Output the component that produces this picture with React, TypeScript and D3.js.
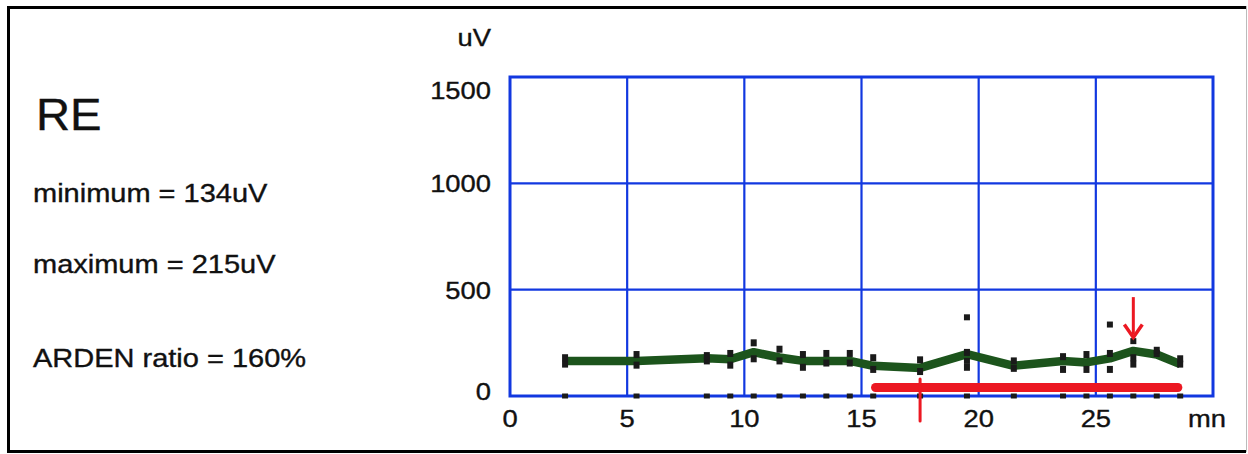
import React from "react";
import * as d3 from "d3";

const title = "RE";
const statLines = ["minimum = 134uV", "maximum = 215uV", "ARDEN ratio = 160%"];
const yTicks = [0, 500, 1000, 1500];
const xTicks = [0, 5, 10, 15, 20, 25];
const yUnit = "uV";
const xUnit = "mn";

const times = [2.35, 5.4, 8.4, 9.4, 10.4, 11.5, 12.5, 13.5, 14.5, 15.5, 17.5, 19.5, 21.5, 23.6, 24.6, 25.6, 26.6, 27.6, 28.6];
const meanUV = [165, 165, 177, 173, 206, 181, 165, 165, 165, 142, 132, 197, 142, 165, 158, 177, 212, 195, 150];
const sampleLo = [150, 145, 165, 145, 175, 165, 135, 155, 155, 125, 115, 135, 130, 125, 125, 125, 150, 200, 150];
const sampleHi = [180, 195, 190, 200, 250, 220, 195, 200, 200, 180, 170, 205, 165, 185, 195, 200, 180, 215, 175];
const outlierTimes = [19.5, 19.5, 25.6, 26.6];
const outlierValues = [370, 165, 336, 258];

const lightPhase = [15.6, 28.5];
const lightLevel = 40;
const lightOnTime = 17.5;
const lightOnRange = [80, -118];
const peakArrowTime = 26.6;
const peakArrowRange = [465, 275];

const FONT = "'Liberation Sans', Arial, Helvetica, sans-serif";
const BLUE = "#1238e0";
const GREEN = "#1c541c";
const RED = "#ec1822";
const DOT = "#1a1a1a";

function T({ x, y, size, anchor = "start", sx = 1.12, children }: any) {
  return (
    <text
      transform={`translate(${x},${y}) scale(${sx},1)`}
      fontSize={size}
      textAnchor={anchor}
      fontFamily={FONT}
      fill="#111"
      stroke="#111"
      strokeWidth={0.35}
    >
      {children}
    </text>
  );
}

export default function App() {
  const W = 1248;
  const H = 454;
  const x = d3.scaleLinear().domain([0, 30]).range([510, 1213]);
  const y = d3.scaleLinear().domain([0, 1500]).range([396, 77]);

  const line = d3
    .line<number>()
    .x((_, i) => x(times[i]))
    .y((d) => y(d))
    .curve(d3.curveLinear);

  const ax = x(peakArrowTime);
  const aTop = y(peakArrowRange[0]);
  const aBot = y(peakArrowRange[1]);
  const yLabelBase = (t: number) => Math.min(400, Math.max(99, y(t) + 9));

  return (
    <svg
      width={W}
      height={H}
      style={{ position: "absolute", left: 0, top: 0, background: "#fff" }}
    >
      <rect x={0} y={0} width={W} height={H} fill="#fff" />
      {/* outer frame */}
      <line x1={8} y1={7.5} x2={1246} y2={7.5} stroke="#000" strokeWidth={3} />
      <line x1={8.5} y1={6} x2={8.5} y2={452} stroke="#000" strokeWidth={3} />
      <line x1={7} y1={451.5} x2={1246} y2={451.5} stroke="#000" strokeWidth={3} />
      <line x1={1246.5} y1={6} x2={1246.5} y2={452} stroke="#bbb" strokeWidth={1} />

      {/* left stats */}
      <T x={36} y={130} size={45} sx={1.05}>{title}</T>
      {statLines.map((s, i) => (
        <T key={s} x={33} y={[202, 273, 367][i]} size={25} sx={1.16}>
          {s}
        </T>
      ))}

      {/* grid */}
      {xTicks.slice(1).map((t) => (
        <line key={"gx" + t} x1={x(t)} x2={x(t)} y1={y(1500)} y2={y(0)} stroke={BLUE} strokeWidth={2.2} />
      ))}
      {yTicks.slice(1, 3).map((t) => (
        <line key={"gy" + t} x1={x(0)} x2={x(30)} y1={y(t)} y2={y(t)} stroke={BLUE} strokeWidth={2.2} />
      ))}
      <rect
        x={x(0)}
        y={y(1500)}
        width={x(30) - x(0)}
        height={y(0) - y(1500)}
        fill="none"
        stroke={BLUE}
        strokeWidth={3}
      />

      {/* tick labels */}
      {yTicks.map((t) => (
        <T key={"yl" + t} x={491} y={yLabelBase(t)} size={24} anchor="end" sx={1.14}>
          {t}
        </T>
      ))}
      {xTicks.map((t) => (
        <T key={"xl" + t} x={x(t)} y={427} size={24} anchor="middle" sx={1.14}>
          {t}
        </T>
      ))}
      <T x={491} y={46} size={24} anchor="end" sx={1.14}>{yUnit}</T>
      <T x={1188} y={427} size={24} sx={1.14}>{xUnit}</T>

      {/* baseline dots */}
      {times.map((t, i) => (
        <rect key={"b" + i} x={x(t) - 3} y={y(0) - 2.5} width={6} height={5} fill={DOT} />
      ))}

      {/* green mean line */}
      <path d={line(meanUV) || ""} fill="none" stroke={GREEN} strokeWidth={8.5} strokeLinejoin="round" strokeLinecap="butt" />

      {/* sample markers */}
      {times.map((t, i) => (
        <g key={"s" + i} fill={DOT}>
          <rect x={x(t) - 3} y={y(sampleLo[i]) - 3.5} width={6} height={7} />
          <rect x={x(t) - 3} y={y(sampleHi[i]) - 3.5} width={6} height={7} />
        </g>
      ))}
      {outlierTimes.map((t, i) => (
        <rect key={"o" + i} x={x(t) - 3} y={y(outlierValues[i]) - 3} width={6} height={6} fill={DOT} />
      ))}

      {/* light phase bar */}
      <line
        x1={x(lightPhase[0])}
        x2={x(lightPhase[1])}
        y1={y(lightLevel)}
        y2={y(lightLevel)}
        stroke={RED}
        strokeWidth={9}
        strokeLinecap="round"
      />
      <line
        x1={x(lightOnTime)}
        x2={x(lightOnTime)}
        y1={y(lightOnRange[0])}
        y2={y(lightOnRange[1])}
        stroke={RED}
        strokeWidth={3}
        strokeLinecap="round"
      />

      {/* peak arrow */}
      <line x1={ax} x2={ax} y1={aTop} y2={aBot - 3} stroke={RED} strokeWidth={3} />
      <polyline
        points={`${ax - 9},${aBot - 13} ${ax},${aBot} ${ax + 9},${aBot - 13}`}
        fill="none"
        stroke={RED}
        strokeWidth={3.5}
        strokeLinejoin="miter"
      />
    </svg>
  );
}
